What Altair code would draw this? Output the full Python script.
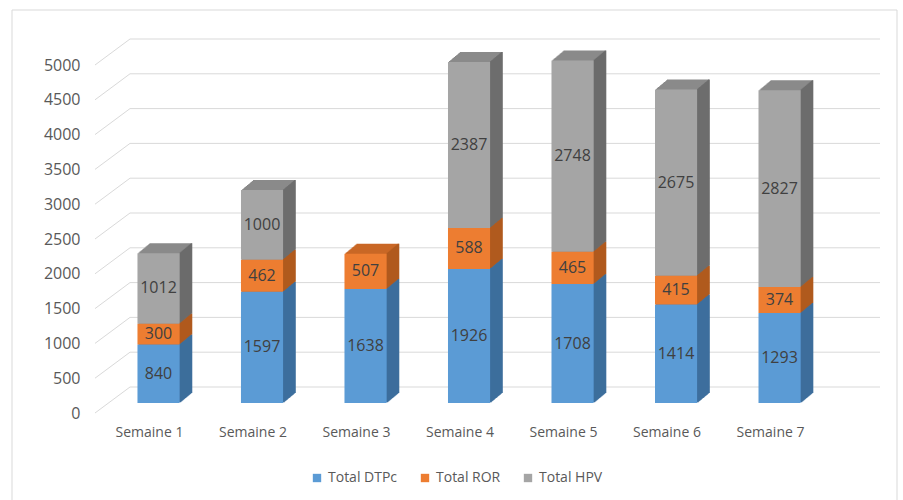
import altair as alt
import pandas as pd

semaines = ["Semaine 1", "Semaine 2", "Semaine 3", "Semaine 4", "Semaine 5", "Semaine 6", "Semaine 7"]
series = ["Total DTPc", "Total ROR", "Total HPV"]
dtpc = [840, 1597, 1638, 1926, 1708, 1414, 1293]
ror = [300, 462, 507, 588, 465, 415, 374]
hpv = [1012, 1000, None, 2387, 2748, 2675, 2827]
y_ticks = [0, 500, 1000, 1500, 2000, 2500, 3000, 3500, 4000, 4500, 5000]

front_colors = ["#5B9BD5", "#ED7D31", "#A5A5A5"]
side_colors = ["#3D6E9C", "#B05A1E", "#6C6C6C"]
top_colors = ["#4A82B8", "#C96726", "#8A8A8A"]

rows = []
for i, s in enumerate(semaines):
    for j, (name, vals) in enumerate(zip(series, [dtpc, ror, hpv])):
        if vals[i] is not None:
            rows.append({"semaine": s, "serie": name, "ordre": j, "valeur": vals[i]})
df = pd.DataFrame(rows)
ticks_df = pd.DataFrame({"v": y_ticks})

FONT = "Open Sans"
W, H = 738, 348
DX, DY, STEPS = 12, 10, 12

xscale = alt.Scale(domain=semaines, paddingInner=0.594, paddingOuter=0.362)
yscale = alt.Scale(domain=[0, 5000], nice=False)
xaxis = alt.Axis(title=None, domain=False, ticks=False, labelPadding=22, labelOffset=-9,
                 labelFontSize=14, labelColor="#595959", labelAngle=0, labelFont=FONT)
yaxis = alt.Axis(title=None, values=y_ticks, format="d", grid=False, domain=False, ticks=False,
                 labelPadding=20, labelOffset=10, labelFontSize=16, labelColor="#595959",
                 labelFont=FONT)


def X():
    return alt.X("semaine:N", scale=xscale, axis=xaxis, sort=semaines)


def Y(field):
    return alt.Y(field, scale=yscale, axis=yaxis)


base = alt.Chart(df).transform_stack(
    stack="valeur", groupby=["semaine"], sort=[alt.SortField("ordre")], as_=["y0", "y1"]
).transform_calculate(ymid="(datum.y0 + datum.y1) / 2")

layers = []

border = alt.Chart(pd.DataFrame({"a": [0]})).mark_rect(
    fillOpacity=0, stroke="#d9d9d9", strokeWidth=1
).encode(x=alt.value(-88), x2=alt.value(797), y=alt.value(-45), y2=alt.value(470))
layers.append(border)

grid = alt.Chart(ticks_df).mark_rule(color="#d9d9d9", strokeWidth=1, yOffset=-16).encode(
    y=Y("v:Q"), x=alt.value(30), x2=alt.value(780))
diag = alt.Chart(ticks_df).mark_rule(color="#d9d9d9", strokeWidth=1, yOffset=10, y2Offset=-16).encode(
    y=Y("v:Q"), y2="v:Q", x=alt.value(-5), x2=alt.value(30))
layers += [grid, diag]

for k in range(STEPS, 0, -1):
    ox = DX * k / STEPS
    oy = -DY * k / STEPS
    layers.append(base.mark_bar(xOffset=ox, x2Offset=ox, yOffset=oy, y2Offset=oy).encode(
        x=X(), y=Y("y0:Q"), y2="y1:Q",
        color=alt.Color("serie:N", scale=alt.Scale(domain=series, range=top_colors), legend=None)))

for k in range(1, STEPS + 1):
    ox = 21 + DX * k / STEPS
    oy = -DY * k / STEPS
    layers.append(base.mark_rule(strokeWidth=1.6, xOffset=ox, yOffset=oy, y2Offset=oy).encode(
        x=X(), y=Y("y0:Q"), y2="y1:Q",
        color=alt.Color("serie:N", scale=alt.Scale(domain=series, range=side_colors), legend=None)))

front = base.mark_bar().encode(
    x=X(), y=Y("y0:Q"), y2="y1:Q",
    color=alt.Color("serie:N", scale=alt.Scale(domain=series, range=front_colors),
                    legend=alt.Legend(orient="none", legendX=210, legendY=416, direction="horizontal",
                                      title=None, symbolType="square", symbolSize=70,
                                      symbolStrokeWidth=0, labelFontSize=14, labelFont=FONT,
                                      labelColor="#595959", columnPadding=20)))
layers.append(front)

labels = base.mark_text(fontSize=16, font=FONT, color="#404040").encode(
    x=X(), y=Y("ymid:Q"), text="valeur:Q")
layers.append(labels)

chart = alt.layer(*layers).resolve_scale(color="independent").properties(
    width=W, height=H,
    autosize=alt.AutoSizeParams(type="none"),
    padding={"left": 100, "top": 55, "right": 65, "bottom": 97},
    background="white",
).configure_view(stroke=None)

chart.save("out.html", embed_options={"renderer": "svg", "actions": False})
